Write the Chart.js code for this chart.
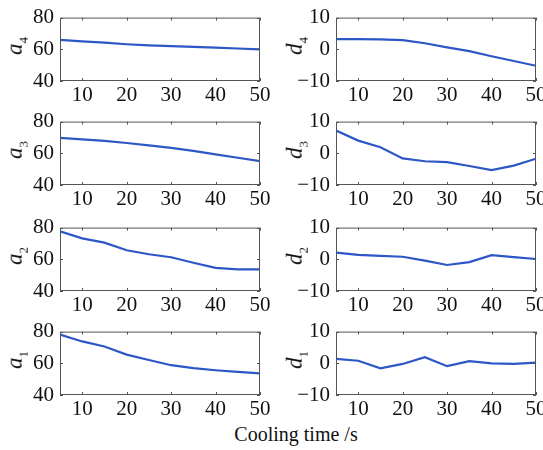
<!DOCTYPE html>
<html>
<head>
<meta charset="utf-8">
<script src="https://cdn.jsdelivr.net/npm/chart.js@4.4.0/dist/chart.umd.min.js"></script>
<style>
    body {
        margin: 0;
        width: 543px;
        height: 450px;
        overflow: hidden;
        background: #fff;
        position: relative;
        font-family: 'Liberation Serif';
        color: #111;
    }
    canvas { position: absolute; }
    .ylab {
        position: absolute;
        transform: translate(-50%, -50%) rotate(-90deg);
        font-family: 'Liberation Serif';
        font-size: 23px;
        font-style: italic;
        white-space: nowrap;
        line-height: 1;
    }
    .ylab sub { font-size: 13px; font-style: normal; }
    #xlab {
        position: absolute;
        left: 296px;
        top: 434px;
        transform: translate(-50%, -50%);
        font-family: 'Liberation Serif';
        font-size: 20px;
        white-space: nowrap;
    }
</style>
</head>
<body>
<div id="xlab">Cooling time /s</div>

<script>
// values
const coolingTime = [5, 10, 15, 20, 25, 30, 35, 40, 45, 50];

const a1 = [78.1, 73.8, 70.6, 65.5, 62.1, 58.8, 56.9, 55.6, 54.6, 53.7];
const a2 = [77.6, 73.2, 70.5, 65.7, 63.2, 61.3, 57.8, 54.6, 53.6, 53.6];
const a3 = [69.7, 68.8, 67.8, 66.5, 65.0, 63.4, 61.5, 59.3, 57.2, 55.0];
const a4 = [66.0, 65.0, 64.2, 63.2, 62.5, 62.0, 61.5, 61.0, 60.5, 59.9];

const d1 = [1.4, 0.8, -1.6, -0.2, 1.9, -0.9, 0.7, 0.0, -0.2, 0.2];
const d2 = [2.1, 1.4, 1.1, 0.8, -0.4, -1.8, -0.9, 1.3, 0.7, 0.1];
const d3 = [7.2, 4.0, 1.9, -1.6, -2.5, -2.8, -4.0, -5.3, -3.9, -1.7];
const d4 = [3.2, 3.2, 3.1, 2.9, 1.9, 0.6, -0.6, -2.2, -3.7, -5.2];

const xTicks = [10, 20, 30, 40, 50];
const aTicks = [40, 60, 80];
const dTicks = [-10, 0, 10];

const panels = [
    { name: 'a', sub: '4', values: a4, ticks: aTicks, col: 0, row: 0 },
    { name: 'd', sub: '4', values: d4, ticks: dTicks, col: 1, row: 0 },
    { name: 'a', sub: '3', values: a3, ticks: aTicks, col: 0, row: 1 },
    { name: 'd', sub: '3', values: d3, ticks: dTicks, col: 1, row: 1 },
    { name: 'a', sub: '2', values: a2, ticks: aTicks, col: 0, row: 2 },
    { name: 'd', sub: '2', values: d2, ticks: dTicks, col: 1, row: 2 },
    { name: 'a', sub: '1', values: a1, ticks: aTicks, col: 0, row: 3 },
    { name: 'd', sub: '1', values: d1, ticks: dTicks, col: 1, row: 3 }
];

// layout
const rowTops = [11, 115, 221, 325];
const plotW = 200, plotH = 70, padTop = 12, xAxisH = 32;
const cols = [
    { left: 0, width: 275, yAxisW: 60, labelX: 16 },
    { left: 270, width: 290, yAxisW: 66, labelX: 296 }
];

const lineColor = '#2d57c6';
const frameColor = '#555';
const tickFont = { family: "'Liberation Serif'", size: 21 };

// box around the plot plus small inward ticks, like the original figure
const framePlugin = {
    id: 'frame',
    afterDraw(chart) {
        const { ctx, chartArea: ca, scales } = chart;
        ctx.save();
        ctx.strokeStyle = frameColor;
        ctx.lineWidth = 1;
        ctx.strokeRect(ca.left + 0.5, ca.top + 0.5, ca.right - ca.left - 1, ca.bottom - ca.top - 1);
        ctx.beginPath();
        scales.x.ticks.forEach(t => {
            const px = Math.round(scales.x.getPixelForValue(t.value)) + 0.5;
            ctx.moveTo(px, ca.bottom); ctx.lineTo(px, ca.bottom - 3);
            ctx.moveTo(px, ca.top); ctx.lineTo(px, ca.top + 3);
        });
        scales.y.ticks.forEach(t => {
            const py = Math.round(scales.y.getPixelForValue(t.value)) + 0.5;
            ctx.moveTo(ca.left, py); ctx.lineTo(ca.left + 3, py);
            ctx.moveTo(ca.right, py); ctx.lineTo(ca.right - 3, py);
        });
        ctx.stroke();
        ctx.restore();
    }
};

panels.forEach(p => {
    const c = cols[p.col];
    const top = rowTops[p.row] - padTop;

    const canvas = document.createElement('canvas');
    canvas.width = c.width;
    canvas.height = padTop + plotH + xAxisH;
    canvas.style.left = c.left + 'px';
    canvas.style.top = top + 'px';
    document.body.appendChild(canvas);

    const lab = document.createElement('div');
    lab.className = 'ylab';
    lab.innerHTML = p.name + '<sub>' + p.sub + '</sub>';
    lab.style.left = c.labelX + 'px';
    lab.style.top = (rowTops[p.row] + plotH / 2) + 'px';
    document.body.appendChild(lab);

    const yTicks = p.ticks;

    new Chart(canvas.getContext('2d'), {
        type: 'line',
        data: {
            datasets: [{
                data: coolingTime.map((t, i) => ({ x: t, y: p.values[i] })),
                borderColor: lineColor,
                borderWidth: 2.2,
                pointRadius: 0,
                tension: 0,
                fill: false
            }]
        },
        options: {
            responsive: false,
            animation: false,
            devicePixelRatio: 1,
            layout: {
                padding: { top: padTop, right: c.width - c.yAxisW - plotW, bottom: 0, left: 0 }
            },
            scales: {
                x: {
                    type: 'linear',
                    min: 5,
                    max: 50,
                    afterBuildTicks: s => { s.ticks = xTicks.map(v => ({ value: v })); },
                    afterFit: s => { s.height = xAxisH; },
                    grid: { display: false, drawTicks: false },
                    border: { display: false },
                    ticks: { font: tickFont, color: '#111', padding: 2, maxRotation: 0 }
                },
                y: {
                    min: yTicks[0],
                    max: yTicks[yTicks.length - 1],
                    afterBuildTicks: s => { s.ticks = yTicks.map(v => ({ value: v })); },
                    afterFit: s => { s.width = c.yAxisW; },
                    grid: { display: false, drawTicks: false },
                    border: { display: false },
                    ticks: {
                        font: tickFont,
                        color: '#111',
                        padding: 6,
                        callback: v => String(v).replace('-', '\u2212')
                    }
                }
            },
            plugins: {
                legend: { display: false },
                tooltip: { enabled: false }
            }
        },
        plugins: [framePlugin]
    });
});
</script>
</body>
</html>
